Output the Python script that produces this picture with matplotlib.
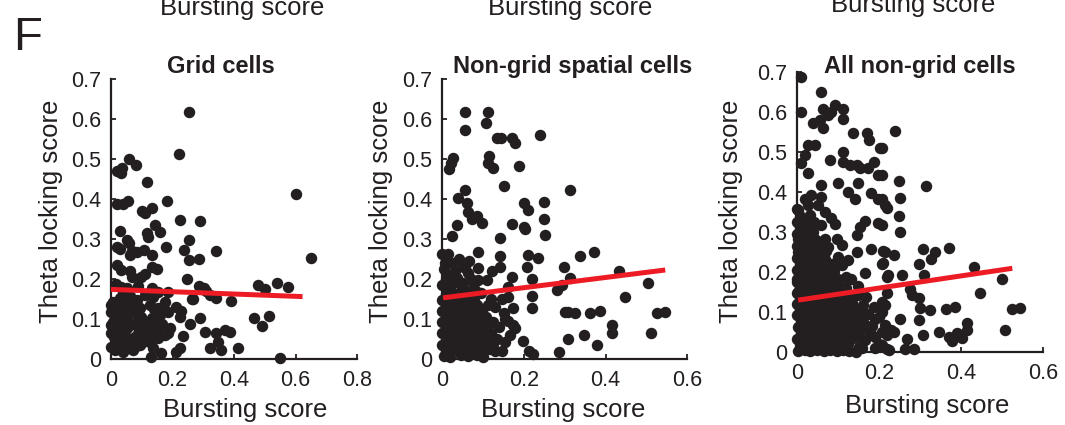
import numpy as np
import matplotlib.pyplot as plt

plt.rcParams['font.family'] = ['Liberation Sans', 'DejaVu Sans']

# ---- data (bursting score, theta locking score) ----
grid_pts = [
    (0.254, 0.617), (0.221, 0.512), (0.602, 0.412), (0.649, 0.252),
    (0.058, 0.501), (0.081, 0.484), (0.018, 0.470), (0.035, 0.478), (0.031, 0.466),
    (0.117, 0.442), (0.181, 0.396), (0.018, 0.388), (0.040, 0.387), (0.056, 0.396),
    (0.100, 0.370), (0.110, 0.364), (0.132, 0.378), (0.224, 0.348), (0.291, 0.344),
    (0.143, 0.334), (0.160, 0.318), (0.029, 0.321), (0.116, 0.316), (0.121, 0.306),
    (0.051, 0.298), (0.059, 0.290), (0.253, 0.298), (0.018, 0.280), (0.029, 0.276), (0.179, 0.280),
    (0.343, 0.269), (0.238, 0.273), (0.067, 0.269), (0.083, 0.268), (0.108, 0.272), (0.132, 0.261),
    (0.062, 0.260), (0.253, 0.248), (0.287, 0.249), (0.018, 0.234), (0.031, 0.223), (0.062, 0.219),
    (0.067, 0.206), (0.132, 0.230), (0.148, 0.226), (0.099, 0.205), (0.110, 0.212),
    (0.248, 0.200), (0.016, 0.187), (0.031, 0.180), (0.051, 0.177), (0.089, 0.183), (0.132, 0.178),
    (0.285, 0.183), (0.302, 0.178), (0.308, 0.170), (0.478, 0.186), (0.541, 0.190), (0.577, 0.180),
    (0.501, 0.174), (0.184, 0.167), (0.153, 0.168), (0.265, 0.151), (0.321, 0.160), (0.343, 0.153),
    (0.389, 0.146), (0.040, 0.165), (0.062, 0.157), (0.072, 0.148), (0.267, 0.150),
    (0.213, 0.131), (0.229, 0.119), (0.224, 0.106), (0.170, 0.119),
    (0.289, 0.103), (0.256, 0.087), (0.465, 0.103), (0.515, 0.108), (0.490, 0.082),
    (0.191, 0.077), (0.164, 0.060), (0.305, 0.068), (0.343, 0.064), (0.370, 0.072), (0.386, 0.068),
    (0.348, 0.043), (0.359, 0.022), (0.234, 0.057), (0.224, 0.027), (0.211, 0.018), (0.164, 0.016),
    (0.130, 0.006), (0.321, 0.027), (0.413, 0.027), (0.548, 0.003),
    (0.008, 0.143), (0.029, 0.152), (0.056, 0.156), (0.083, 0.148), (0.110, 0.160), (0.137, 0.156),
    (0.175, 0.143), (0.000, 0.118), (0.024, 0.127), (0.045, 0.127), (0.072, 0.118), (0.094, 0.127),
    (0.126, 0.135), (0.153, 0.127), (0.186, 0.118), (0.008, 0.093), (0.035, 0.106), (0.062, 0.085),
    (0.099, 0.106), (0.132, 0.102), (0.159, 0.110), (0.000, 0.064), (0.024, 0.068), (0.051, 0.077),
    (0.083, 0.060), (0.116, 0.072), (0.143, 0.077), (0.175, 0.060), (0.018, 0.039), (0.045, 0.043),
    (0.067, 0.031), (0.099, 0.039), (0.126, 0.043), (0.153, 0.052), (0.013, 0.022), (0.040, 0.018),
    (0.072, 0.022), (0.094, 0.035), (0.137, 0.027), (0.015, 0.105), (0.045, 0.095), (0.080, 0.090),
    (0.115, 0.090), (0.030, 0.055), (0.060, 0.050), (0.110, 0.055), (0.020, 0.078), (0.090, 0.075),
    (0.140, 0.125),
    (0.000, 0.135), (0.040, 0.137), (0.070, 0.133), (0.030, 0.112), (0.055, 0.110), (0.085, 0.113),
    (0.000, 0.085), (0.025, 0.088), (0.047, 0.082), (0.075, 0.087), (0.010, 0.055), (0.045, 0.058),
    (0.072, 0.053), (0.000, 0.030), (0.025, 0.032), (0.055, 0.028), (0.080, 0.033), (0.110, 0.045),
    (0.130, 0.048), (0.140, 0.090), (0.165, 0.088), (0.125, 0.065), (0.185, 0.066),
]

spatial_pts = [
    (0.056, 0.617), (0.111, 0.617), (0.107, 0.589), (0.056, 0.573), (0.133, 0.553), (0.144, 0.553),
    (0.170, 0.553), (0.177, 0.541), (0.240, 0.560), (0.027, 0.503), (0.021, 0.489), (0.016, 0.475),
    (0.115, 0.508), (0.113, 0.489), (0.125, 0.477), (0.187, 0.483), (0.150, 0.433), (0.056, 0.423),
    (0.039, 0.403), (0.060, 0.389), (0.064, 0.368), (0.072, 0.351), (0.084, 0.358), (0.097, 0.339),
    (0.199, 0.391), (0.211, 0.372), (0.250, 0.393), (0.248, 0.349), (0.035, 0.335), (0.170, 0.337),
    (0.199, 0.331), (0.203, 0.325), (0.252, 0.310), (0.141, 0.303), (0.023, 0.308),
    (0.000, 0.262), (0.015, 0.262), (0.088, 0.268), (0.141, 0.258), (0.211, 0.260), (0.234, 0.252),
    (0.007, 0.239), (0.023, 0.239), (0.048, 0.239), (0.056, 0.227), (0.088, 0.227), (0.121, 0.220),
    (0.141, 0.231), (0.207, 0.230), (0.015, 0.210), (0.035, 0.203), (0.064, 0.214), (0.170, 0.206),
    (0.219, 0.200), (0.088, 0.197), (0.109, 0.197), (0.000, 0.185), (0.027, 0.189), (0.048, 0.177),
    (0.076, 0.178), (0.162, 0.181), (0.219, 0.158), (0.113, 0.135), (0.146, 0.150), (0.162, 0.156),
    (0.219, 0.127), (0.174, 0.127), (0.154, 0.100), (0.174, 0.085), (0.178, 0.077), (0.154, 0.043),
    (0.197, 0.045), (0.129, 0.020), (0.213, 0.020), (0.221, 0.012),
    (0.312, 0.423), (0.338, 0.258), (0.371, 0.268), (0.297, 0.229), (0.313, 0.202), (0.432, 0.221),
    (0.281, 0.172), (0.293, 0.185), (0.504, 0.189), (0.448, 0.156), (0.301, 0.117), (0.309, 0.118),
    (0.326, 0.114), (0.362, 0.114), (0.387, 0.120), (0.526, 0.116), (0.546, 0.117), (0.416, 0.085),
    (0.416, 0.064), (0.510, 0.064), (0.309, 0.050), (0.346, 0.060), (0.379, 0.036), (0.285, 0.017),
    (0.003, 0.008), (0.020, 0.006), (0.045, 0.009), (0.062, 0.007), (0.085, 0.010), (0.100, 0.006),
    (0.010, 0.022), (0.030, 0.024), (0.052, 0.021), (0.070, 0.023), (0.092, 0.022), (0.115, 0.025),
    (0.000, 0.036), (0.018, 0.037), (0.040, 0.035), (0.058, 0.038), (0.078, 0.036), (0.105, 0.034),
    (0.125, 0.037), (0.008, 0.050), (0.027, 0.051), (0.047, 0.049), (0.068, 0.052), (0.088, 0.050),
    (0.112, 0.048), (0.000, 0.064), (0.020, 0.065), (0.036, 0.063), (0.056, 0.066), (0.080, 0.064),
    (0.098, 0.062), (0.120, 0.065), (0.010, 0.078), (0.030, 0.079), (0.050, 0.077), (0.070, 0.080),
    (0.090, 0.078), (0.110, 0.076), (0.000, 0.092), (0.019, 0.093), (0.040, 0.091), (0.060, 0.094),
    (0.078, 0.092), (0.100, 0.090), (0.125, 0.093), (0.008, 0.106), (0.028, 0.107), (0.048, 0.105),
    (0.066, 0.108), (0.088, 0.106), (0.108, 0.104), (0.000, 0.120), (0.018, 0.121), (0.036, 0.119),
    (0.055, 0.122), (0.075, 0.120), (0.096, 0.118), (0.009, 0.134), (0.027, 0.135), (0.046, 0.133),
    (0.065, 0.136), (0.085, 0.134), (0.000, 0.148), (0.020, 0.149), (0.040, 0.147), (0.058, 0.150),
    (0.078, 0.148), (0.010, 0.162), (0.030, 0.163), (0.050, 0.161), (0.070, 0.164),
    (0.135, 0.050), (0.140, 0.080), (0.150, 0.115), (0.165, 0.060), (0.145, 0.020), (0.160, 0.095),
    (0.130, 0.130), (0.120, 0.150), (0.095, 0.165), (0.010, 0.200), (0.030, 0.220), (0.050, 0.190),
    (0.070, 0.200), (0.020, 0.175), (0.060, 0.168), (0.080, 0.172), (0.040, 0.250), (0.065, 0.245),
    (0.005, 0.225),
]

nongrid_pts = [
    (0.008, 0.688), (0.057, 0.649), (0.010, 0.600), (0.063, 0.608), (0.092, 0.617), (0.082, 0.600),
    (0.112, 0.608), (0.112, 0.583), (0.038, 0.571), (0.055, 0.579), (0.063, 0.558), (0.074, 0.592),
    (0.136, 0.546), (0.169, 0.546), (0.175, 0.529), (0.202, 0.510), (0.026, 0.517), (0.043, 0.517),
    (0.018, 0.492), (0.010, 0.471), (0.026, 0.446), (0.079, 0.479), (0.112, 0.500), (0.112, 0.475),
    (0.128, 0.467), (0.145, 0.467), (0.153, 0.458), (0.187, 0.475), (0.173, 0.458), (0.100, 0.423),
    (0.149, 0.423), (0.198, 0.442), (0.059, 0.417), (0.124, 0.400), (0.140, 0.383), (0.181, 0.396),
    (0.198, 0.383), (0.214, 0.367), (0.018, 0.383), (0.002, 0.354), (0.034, 0.392), (0.059, 0.387),
    (0.026, 0.367), (0.051, 0.367), (0.067, 0.350), (0.083, 0.333), (0.092, 0.319), (0.198, 0.321),
    (0.000, 0.325), (0.010, 0.308), (0.026, 0.317), (0.038, 0.300), (0.059, 0.317), (0.165, 0.327),
    (0.153, 0.313), (0.145, 0.292), (0.002, 0.283), (0.018, 0.267), (0.043, 0.275), (0.067, 0.283),
    (0.075, 0.263), (0.096, 0.283), (0.108, 0.267), (0.181, 0.258), (0.002, 0.250), (0.026, 0.233),
    (0.051, 0.250), (0.067, 0.233), (0.145, 0.250), (0.124, 0.229), (0.108, 0.217), (0.214, 0.250),
    (0.210, 0.221), (0.010, 0.217), (0.034, 0.204), (0.059, 0.213), (0.083, 0.204), (0.165, 0.196),
    (0.222, 0.192), (0.000, 0.183), (0.018, 0.175), (0.043, 0.183), (0.067, 0.175), (0.100, 0.183),
    (0.132, 0.183), (0.149, 0.142), (0.002, 0.150), (0.026, 0.142), (0.051, 0.150), (0.075, 0.142),
    (0.100, 0.150),
    (0.239, 0.552), (0.207, 0.510), (0.207, 0.442), (0.249, 0.427), (0.315, 0.415), (0.207, 0.383),
    (0.219, 0.360), (0.251, 0.385), (0.249, 0.340), (0.252, 0.300), (0.207, 0.317), (0.210, 0.252),
    (0.235, 0.242), (0.308, 0.257), (0.337, 0.250), (0.326, 0.231), (0.370, 0.260), (0.296, 0.219),
    (0.207, 0.219), (0.431, 0.213), (0.219, 0.188), (0.255, 0.192), (0.310, 0.192), (0.500, 0.181),
    (0.219, 0.146), (0.276, 0.158), (0.280, 0.143), (0.296, 0.135), (0.447, 0.148), (0.207, 0.125),
    (0.215, 0.117), (0.207, 0.100), (0.300, 0.110), (0.325, 0.104), (0.362, 0.106), (0.386, 0.111),
    (0.525, 0.107), (0.545, 0.109), (0.251, 0.081), (0.296, 0.079), (0.414, 0.073), (0.506, 0.054),
    (0.235, 0.050), (0.207, 0.050), (0.219, 0.043), (0.308, 0.043), (0.345, 0.050), (0.370, 0.038),
    (0.378, 0.027), (0.390, 0.046), (0.402, 0.035), (0.414, 0.054), (0.268, 0.033), (0.264, 0.006),
    (0.284, 0.006), (0.219, 0.007), (0.207, 0.017),
    (0.002, 0.003), (0.018, 0.004), (0.031, 0.002), (0.047, 0.005), (0.064, 0.003), (0.079, 0.004),
    (0.096, 0.002), (0.112, 0.005), (0.127, 0.003), (0.143, 0.000),
    (0.006, 0.018), (0.021, 0.019), (0.037, 0.017), (0.052, 0.020), (0.068, 0.018), (0.084, 0.017),
    (0.101, 0.019), (0.118, 0.018), (0.158, 0.010), (0.223, 0.004),
    (0.000, 0.033), (0.014, 0.034), (0.029, 0.032), (0.044, 0.035), (0.061, 0.033), (0.075, 0.032),
    (0.090, 0.034), (0.106, 0.033), (0.122, 0.031), (0.137, 0.034), (0.165, 0.030), (0.190, 0.036),
    (0.008, 0.048), (0.024, 0.049), (0.040, 0.047), (0.056, 0.050), (0.071, 0.048), (0.087, 0.047),
    (0.103, 0.049), (0.117, 0.048), (0.133, 0.046), (0.150, 0.050), (0.176, 0.052), (0.228, 0.055),
    (0.002, 0.062), (0.017, 0.063), (0.033, 0.061), (0.048, 0.064), (0.064, 0.062), (0.080, 0.061),
    (0.095, 0.063), (0.110, 0.062), (0.126, 0.060), (0.145, 0.066), (0.183, 0.064), (0.214, 0.068),
    (0.010, 0.077), (0.026, 0.078), (0.041, 0.076), (0.057, 0.079), (0.073, 0.077), (0.088, 0.076),
    (0.104, 0.078), (0.120, 0.077), (0.140, 0.080), (0.160, 0.074), (0.190, 0.082),
    (0.000, 0.091), (0.015, 0.092), (0.031, 0.090), (0.047, 0.093), (0.062, 0.091), (0.078, 0.090),
    (0.094, 0.092), (0.110, 0.091), (0.130, 0.094), (0.152, 0.089), (0.172, 0.095), (0.200, 0.088),
    (0.007, 0.105), (0.022, 0.106), (0.038, 0.104), (0.054, 0.107), (0.070, 0.105), (0.086, 0.104),
    (0.101, 0.106), (0.118, 0.105), (0.140, 0.108), (0.188, 0.112),
    (0.000, 0.119), (0.014, 0.120), (0.030, 0.118), (0.046, 0.121), (0.061, 0.119), (0.077, 0.118),
    (0.093, 0.120), (0.110, 0.119), (0.133, 0.122), (0.160, 0.116),
    (0.006, 0.133), (0.021, 0.134), (0.037, 0.132), (0.053, 0.135), (0.069, 0.133), (0.085, 0.132),
    (0.102, 0.134), (0.125, 0.131), (0.168, 0.136),
    (0.000, 0.147), (0.014, 0.148), (0.030, 0.146), (0.045, 0.149), (0.060, 0.147), (0.078, 0.146),
    (0.095, 0.148), (0.117, 0.150),
    (0.007, 0.161), (0.022, 0.162), (0.038, 0.160), (0.054, 0.163), (0.070, 0.161), (0.088, 0.160),
    (0.106, 0.162), (0.148, 0.165),
    (0.000, 0.175), (0.015, 0.176), (0.030, 0.174), (0.046, 0.177), (0.063, 0.175), (0.080, 0.174),
    (0.006, 0.190), (0.021, 0.191), (0.037, 0.189), (0.055, 0.192), (0.075, 0.190), (0.118, 0.188),
    (0.000, 0.205), (0.014, 0.206), (0.030, 0.204), (0.048, 0.207), (0.068, 0.205), (0.090, 0.203),
    (0.007, 0.220), (0.022, 0.221), (0.040, 0.219), (0.060, 0.222), (0.085, 0.220),
    (0.000, 0.235), (0.015, 0.236), (0.032, 0.234), (0.050, 0.237), (0.100, 0.236),
    (0.006, 0.250), (0.022, 0.251), (0.040, 0.249), (0.070, 0.252),
    (0.000, 0.265), (0.015, 0.266), (0.032, 0.264), (0.055, 0.267),
    (0.007, 0.280), (0.024, 0.281), (0.045, 0.279), (0.000, 0.295), (0.016, 0.296), (0.035, 0.294),
    (0.006, 0.310), (0.025, 0.311), (0.017, 0.326), (0.040, 0.324), (0.006, 0.340), (0.030, 0.341),
    (0.000, 0.356),
    (0.130, 0.140), (0.120, 0.160), (0.100, 0.175), (0.090, 0.190), (0.155, 0.100), (0.170, 0.065),
    (0.180, 0.045), (0.160, 0.030), (0.200, 0.020), (0.190, 0.010), (0.125, 0.020), (0.150, 0.012),
]

fit_x = [[0.0, 0.623], [0.002, 0.546], [0.002, 0.525]]
fit_y = [[0.174, 0.156], [0.153, 0.2225], [0.129, 0.2085]]

titles = ['Grid cells', 'Non-grid spatial cells', 'All non-grid cells']
xlims = [0.8, 0.6, 0.6]
xticks = [[0, 0.2, 0.4, 0.6, 0.8], [0, 0.2, 0.4, 0.6], [0, 0.2, 0.4, 0.6]]
yticks = [0, 0.1, 0.2, 0.3, 0.4, 0.5, 0.6, 0.7]

W, H = 1065, 425
fig = plt.figure(figsize=(W / 100, H / 100), dpi=100)

# axes rectangles in pixels: left, bottom(from top), width, height
rects = [(111, 359, 246, 280), (442.3, 359, 245, 280), (797.3, 351.7, 245.7, 280)]
ylab_x = [-0.195, -0.201, -0.221]
ylab_y = [0.529, 0.529, 0.503]
xlab_x = [0.545, 0.494, 0.528]
xlab_y = [-0.139, -0.139, -0.151]
title_x = [221, 572.5, 920]
top_x = [241.7, 570, 913]
top_base = [15, 15, 11.7]

ink = '#231f20'
all_pts = [grid_pts, spatial_pts, nongrid_pts]

for i in range(3):
    l, b, w, h = rects[i]
    ax = fig.add_axes([l / W, (H - b) / H, w / W, h / H])
    pts = np.array(all_pts[i])
    ax.scatter(pts[:, 0], pts[:, 1], s=68, color=ink, linewidths=0, zorder=3, clip_on=False)
    ax.plot(fit_x[i], fit_y[i], color='#ed1c24', lw=3.6, solid_capstyle='butt', zorder=4)
    ax.set_xlim(0, xlims[i])
    ax.set_ylim(0, 0.7)
    ax.set_xticks(xticks[i])
    ax.set_xticklabels([f'{v:g}' for v in xticks[i]])
    ax.set_yticks(yticks)
    ax.set_yticklabels([f'{v:g}' for v in yticks])
    for s in ['top', 'right']:
        ax.spines[s].set_visible(False)
    for s in ['left', 'bottom']:
        ax.spines[s].set_linewidth(1.6)
        ax.spines[s].set_color(ink)
    ax.tick_params(direction='in', length=3.5, width=1.3, color=ink,
                   labelsize=15.5, labelcolor=ink)
    ax.tick_params(axis='y', pad=7)
    ax.tick_params(axis='x', pad=8)
    ax.set_xlabel('Bursting score', fontsize=18.5, color=ink)
    ax.set_ylabel('Theta locking score', fontsize=18.5, color=ink)
    ax.xaxis.set_label_coords(xlab_x[i], xlab_y[i])
    ax.yaxis.set_label_coords(ylab_x[i], ylab_y[i])
    fig.text(title_x[i] / W, 1 - 72.7 / H, titles[i], fontsize=17, fontweight='bold',
             ha='center', va='baseline', color=ink)
    # cropped label of the row above
    fig.text(top_x[i] / W, 1 - top_base[i] / H, 'Bursting score', fontsize=18.5,
             ha='center', va='baseline', color=ink)

fig.text(13 / W, 1 - 50 / H, 'F', fontsize=34, ha='left', va='baseline', color=ink)

fig.savefig('out.png', dpi=100)
